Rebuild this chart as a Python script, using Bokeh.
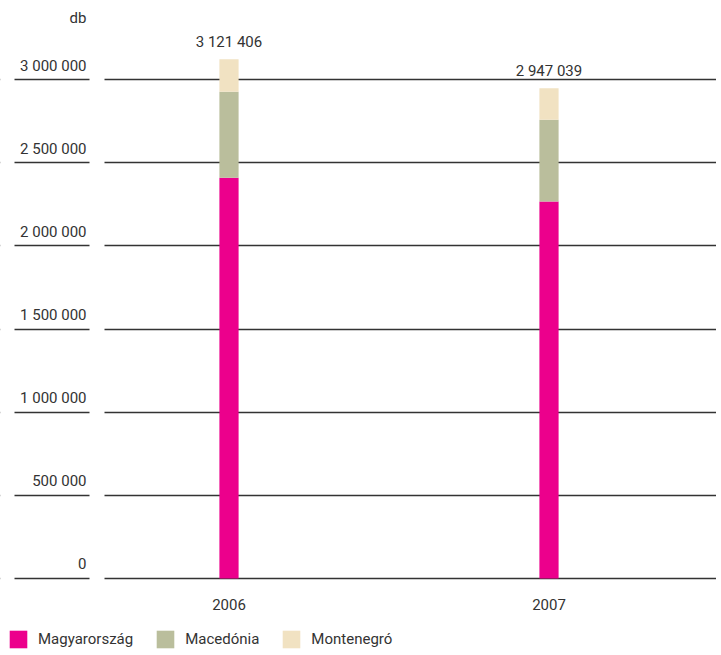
from bokeh.plotting import figure
from bokeh.models import (ColumnDataSource, LabelSet, Label, Grid, FixedTicker,
                          BoxAnnotation, Range1d, Legend, LegendItem)
from bokeh.core.properties import value
from bokeh.embed import file_html
from bokeh.resources import INLINE

# ---- data ----
years = [2006, 2007]
magyarorszag = [2410000, 2266000]
macedonia = [517000, 492000]
montenegro = [194406, 189039]
totals = [3121406, 2947039]
total_labels = ["3 121 406", "2 947 039"]
year_labels = ["2006", "2007"]
y_ticks = [0, 500000, 1000000, 1500000, 2000000, 2500000, 3000000]
y_tick_labels = ["0", "500 000", "1 000 000", "1 500 000", "2 000 000", "2 500 000", "3 000 000"]
series_names = ["Magyarország", "Macedónia", "Montenegró"]
series_keys = ["hu", "mk", "me"]
colors = ["#EC008C", "#BABE9C", "#F1E2C2"]

FONT = "Roboto"
FS = "15px"
TXT = "#333333"

src = ColumnDataSource(dict(year=years, hu=magyarorszag, mk=macedonia, me=montenegro,
                            total=totals, tlabel=total_labels, ylabel=year_labels))

p = figure(width=716, height=652,
           x_range=Range1d(2005.28594, 2007.52344),
           y_range=Range1d(-444890, 3474950),
           output_backend="svg", toolbar_location=None,
           x_axis_location=None, y_axis_location=None,
           min_border=0, outline_line_color=None,
           background_fill_color="white", border_fill_color="white")
p.grid.visible = False

grid = Grid(dimension=1, ticker=FixedTicker(ticks=y_ticks),
            grid_line_color="#333333", grid_line_width=1.5)
p.add_layout(grid)

# gaps in the grid lines (left of labels, between labels and plot)
p.add_layout(BoxAnnotation(left=0, right=14, left_units="screen", right_units="screen",
                           fill_color="white", fill_alpha=1, line_alpha=0))
p.add_layout(BoxAnnotation(left=89, right=104, left_units="screen", right_units="screen",
                           fill_color="white", fill_alpha=1, line_alpha=0))

renderers = p.vbar_stack(series_keys, x="year", width=0.06, source=src,
                         color=colors, line_color=None)

# y tick labels
tick_src = ColumnDataSource(dict(tick=y_ticks, label=y_tick_labels))
p.add_layout(LabelSet(x=86, x_units="screen", y="tick", text="label", source=tick_src,
                      text_align="right", text_baseline="alphabetic", y_offset=9,
                      text_font=value(FONT), text_font_size=value(FS), text_color=TXT))

p.add_layout(Label(x=86, x_units="screen", y=p.y_range.end, y_offset=-17, text="db",
                   text_align="right", text_baseline="middle",
                   text_font=FONT, text_font_size=FS, text_color=TXT))

# year labels
p.add_layout(LabelSet(x="year", y=0, y_offset=-26, text="ylabel", source=src,
                      text_align="center", text_baseline="middle",
                      text_font=value(FONT), text_font_size=value(FS), text_color=TXT))
# totals
p.add_layout(LabelSet(x="year", y="total", y_offset=17, text="tlabel", source=src,
                      text_align="center", text_baseline="middle",
                      text_font=value(FONT), text_font_size=value(FS), text_color=TXT))

legend = Legend(items=[LegendItem(label=n, renderers=[r]) for n, r in zip(series_names, renderers)],
                orientation="horizontal", location=(7, 2),
                glyph_width=22, glyph_height=22, label_standoff=9, spacing=21,
                padding=0, margin=0, border_line_alpha=0, background_fill_alpha=0,
                label_text_font=FONT, label_text_font_size=FS, label_text_color=TXT,
                label_height=22)
p.add_layout(legend)

open("out.html", "w").write(file_html(p, INLINE))
